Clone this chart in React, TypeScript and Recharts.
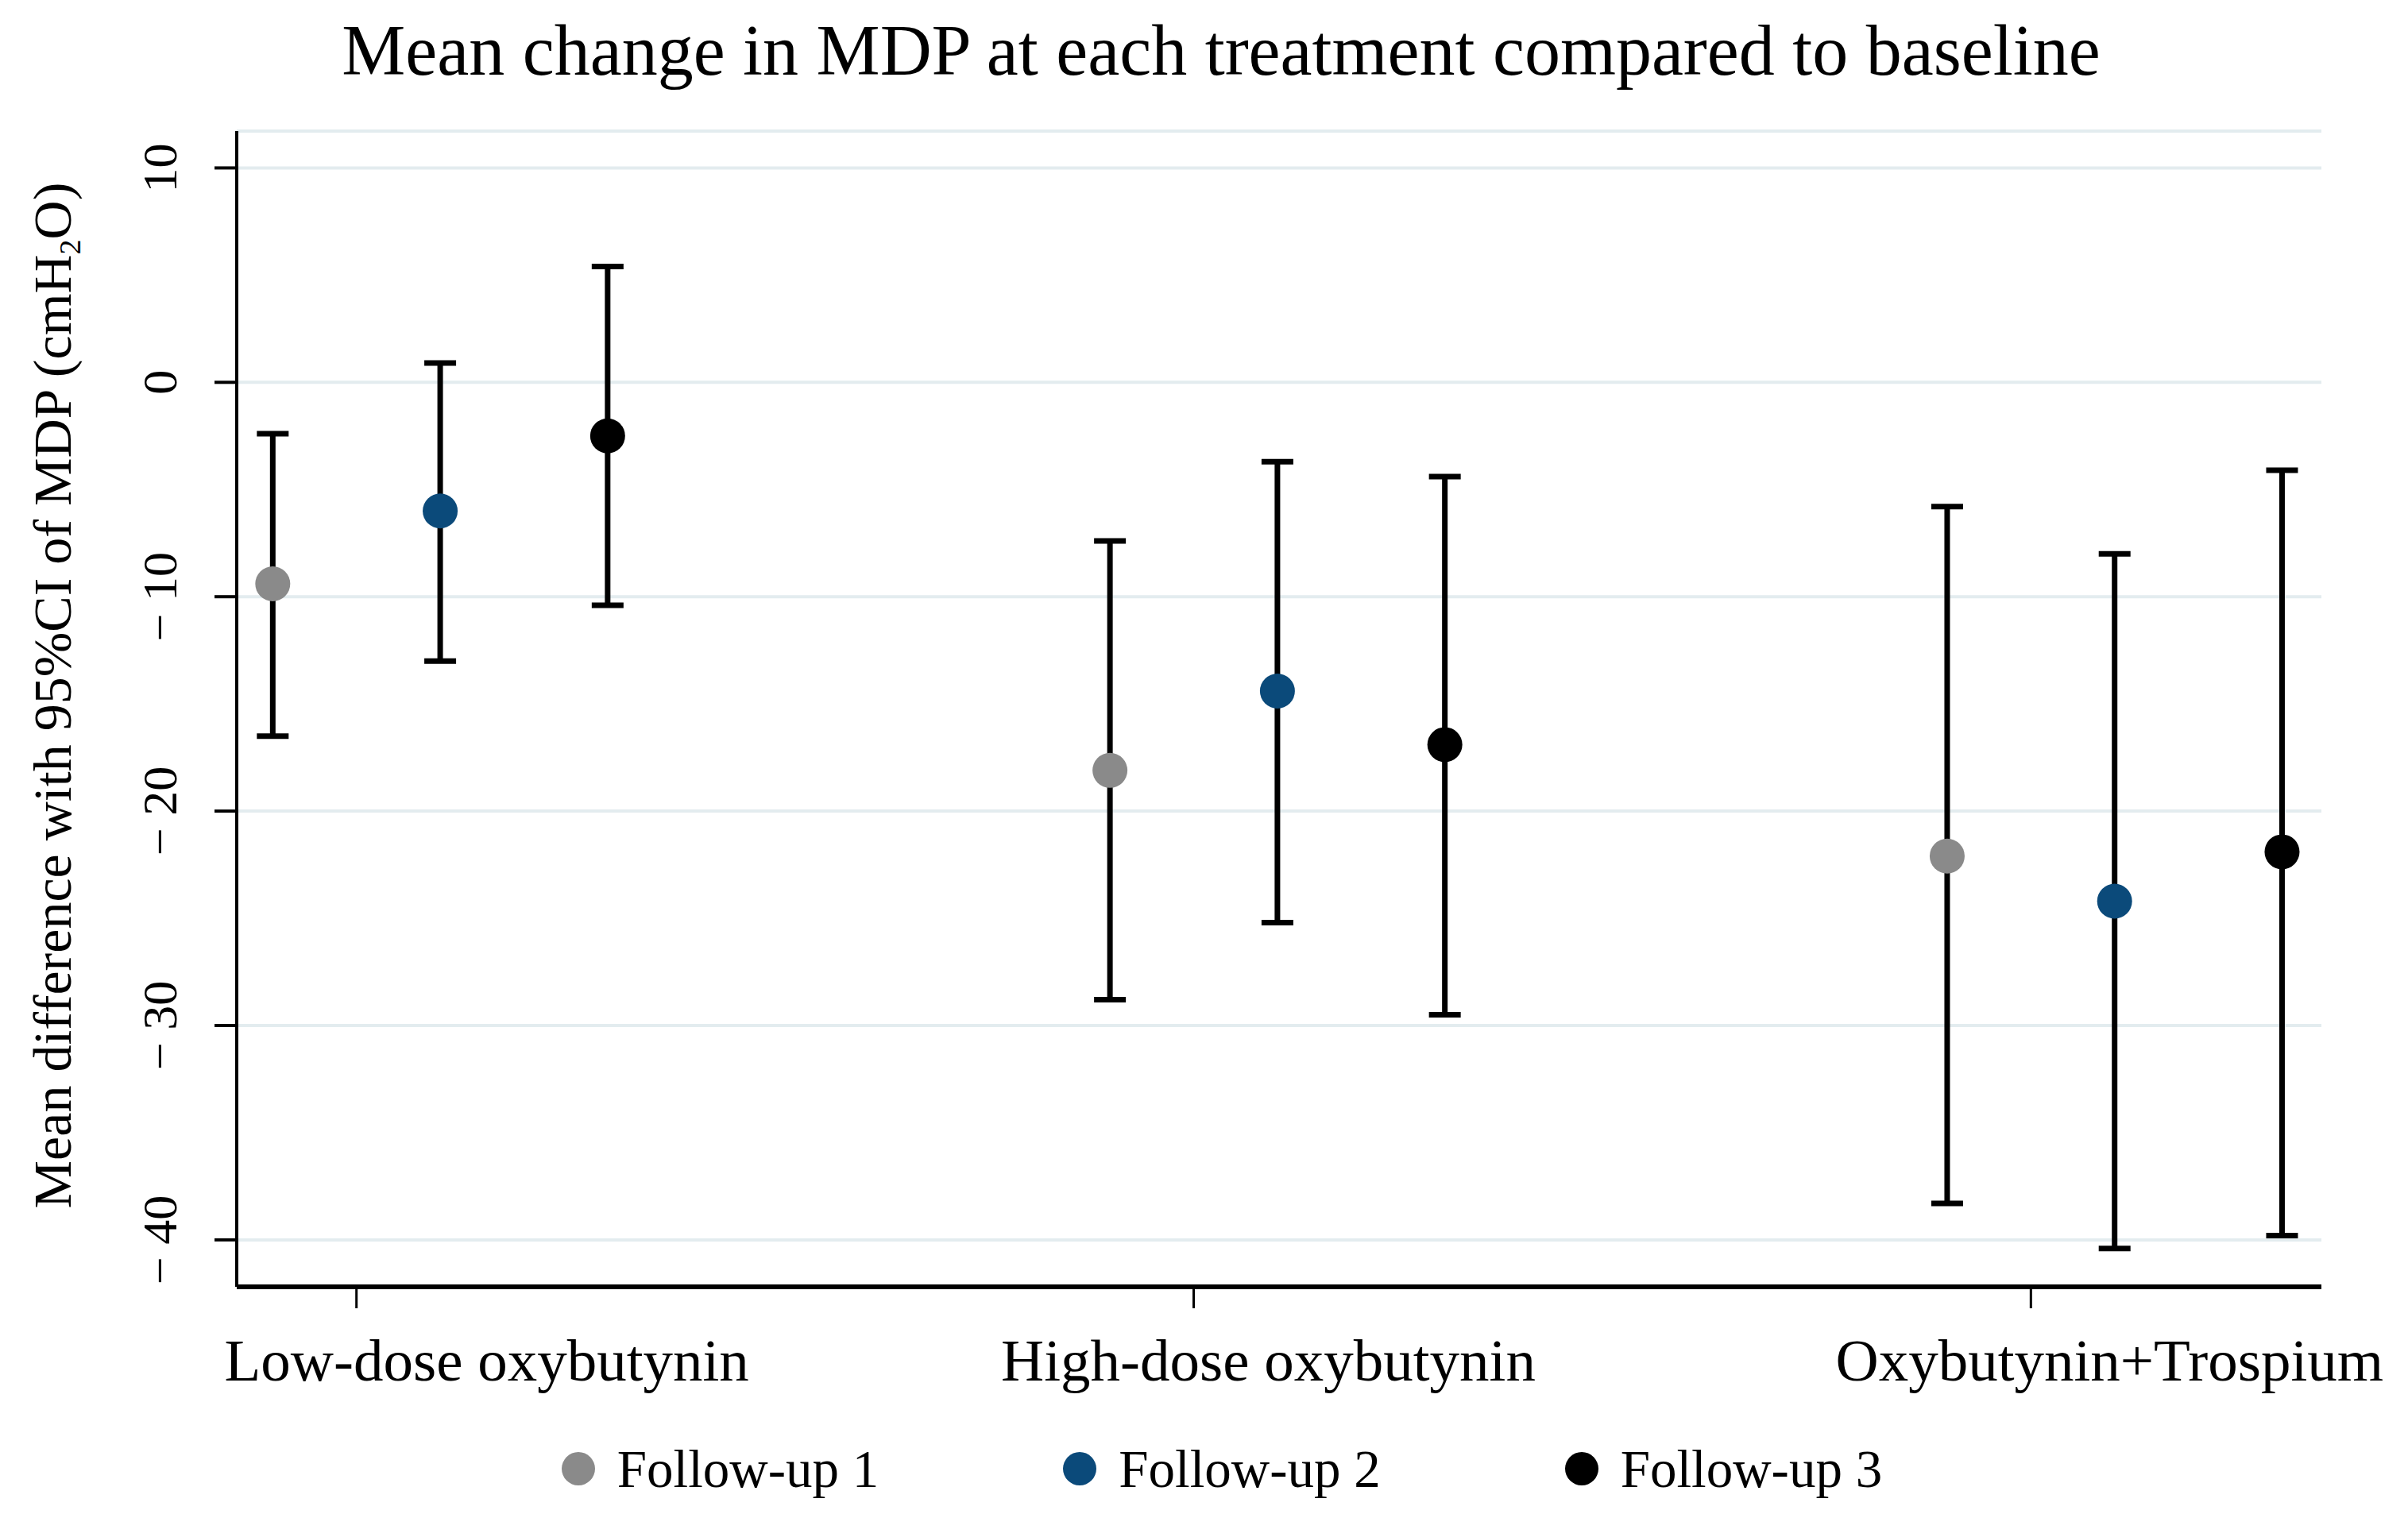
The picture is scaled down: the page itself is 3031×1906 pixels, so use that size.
import React from "react";
import { ScatterChart, Scatter, XAxis, YAxis, CartesianGrid, ErrorBar, Legend } from "recharts";

const treatments = ["Low-dose oxybutynin", "High-dose oxybutynin", "Oxybutynin+Trospium"];
const followUps = ["Follow-up 1", "Follow-up 2", "Follow-up 3"];
const followUpColors = ["#8a8a8a", "#0b4a7a", "#000000"];
const followUpOffsets = [-0.1, 0.1, 0.3];

// mean difference and 95% CI bounds, per treatment
const fu1Mean = [-9.4, -18.1, -22.1];
const fu1Lower = [-16.5, -28.8, -38.3];
const fu1Upper = [-2.4, -7.4, -5.8];
const fu2Mean = [-6.0, -14.4, -24.2];
const fu2Lower = [-13.0, -25.2, -40.4];
const fu2Upper = [0.9, -3.7, -8.0];
const fu3Mean = [-2.5, -16.9, -21.9];
const fu3Lower = [-10.4, -29.5, -39.8];
const fu3Upper = [5.4, -4.4, -4.1];

const yTicks = [10, 0, -10, -20, -30, -40];
const xTicks = [1, 2, 3];

// horizontal nudge of each category label (px)
const xLabelShift = [164, 94, 99];

const FONT = '"Liberation Serif", "Times New Roman", serif';

const seriesValues = [
  { mean: fu1Mean, lower: fu1Lower, upper: fu1Upper },
  { mean: fu2Mean, lower: fu2Lower, upper: fu2Upper },
  { mean: fu3Mean, lower: fu3Lower, upper: fu3Upper },
];

const seriesData = seriesValues.map((s, si) =>
  treatments.map((t, ti) => ({
    treatment: t,
    x: ti + 1 + followUpOffsets[si],
    y: s.mean[ti],
    err: [s.mean[ti] - s.lower[ti], s.upper[ti] - s.mean[ti]],
  }))
);

const XTick = (props: any) => {
  const { x, y, payload } = props;
  const i = Math.round(payload.value) - 1;
  return (
    <text
      x={x + xLabelShift[i]}
      y={y + 91}
      textAnchor="middle"
      fontFamily={FONT}
      fontSize={75}
      fill="#000"
    >
      {treatments[i]}
    </text>
  );
};

const YTick = (props: any) => {
  const { x, y, payload } = props;
  const v = payload.value;
  const label = v < 0 ? "\u2212 " + Math.abs(v) : String(v);
  const bx = x - 48;
  return (
    <text
      x={bx}
      y={y}
      transform={`rotate(-90, ${bx}, ${y})`}
      textAnchor="middle"
      fontFamily={FONT}
      fontSize={62}
      fill="#000"
    >
      {label}
    </text>
  );
};

const renderYLabel = (props: any) => {
  const vb = props.viewBox;
  const lx = vb.x + 89;
  const ly = vb.y + vb.height / 2 - 17;
  return (
    <text
      x={lx}
      y={ly}
      transform={`rotate(-90, ${lx}, ${ly})`}
      textAnchor="middle"
      fontFamily={FONT}
      fontSize={68}
      fill="#000"
    >
      Mean difference with 95%CI of MDP (cmH
      <tspan dy={12} fontSize={38}>2</tspan>
      <tspan dy={-12}>O)</tspan>
    </text>
  );
};

const LegendContent = () => (
  <div
    style={{
      height: 128,
      boxSizing: "border-box",
      paddingTop: 14,
      paddingLeft: 154,
      display: "flex",
      justifyContent: "center",
      alignItems: "center",
      gap: 232,
    }}
  >
    {followUps.map((f, i) => (
      <div key={f} style={{ display: "flex", alignItems: "center" }}>
        <span
          style={{
            display: "inline-block",
            width: 42,
            height: 42,
            borderRadius: "50%",
            background: followUpColors[i],
            marginRight: 28,
          }}
        />
        <span style={{ fontFamily: FONT, fontSize: 67, lineHeight: 1, color: "#000" }}>{f}</span>
      </div>
    ))}
  </div>
);

export default function App() {
  return (
    <div style={{ position: "relative", width: 3031, height: 1906, background: "#fff" }}>
      <style>{"body{margin:0;}"}</style>
      <ScatterChart width={3031} height={1906} margin={{ top: 165, right: 109, bottom: 0, left: 0 }}>
        <CartesianGrid vertical={false} stroke="#e3ecef" strokeWidth={4} />
        <XAxis
          type="number"
          dataKey="x"
          domain={[0.857, 3.347]}
          ticks={xTicks}
          allowDataOverflow
          interval={0}
          height={158}
          tickSize={27}
          tickMargin={0}
          tick={XTick}
          tickLine={{ stroke: "#000", strokeWidth: 3 }}
          axisLine={{ stroke: "#000", strokeWidth: 6 }}
        />
        <YAxis
          type="number"
          dataKey="y"
          domain={[-42.19, 11.72]}
          ticks={yTicks}
          allowDataOverflow
          interval={0}
          width={298}
          tickSize={28}
          tickMargin={0}
          tick={YTick}
          tickLine={{ stroke: "#000", strokeWidth: 4 }}
          axisLine={{ stroke: "#000", strokeWidth: 4 }}
          label={renderYLabel}
        />
        <Legend verticalAlign="bottom" height={128} content={LegendContent} />
        {seriesData.map((d, i) => (
          <Scatter
            key={followUps[i]}
            name={followUps[i]}
            data={d}
            fill={followUpColors[i]}
            isAnimationActive={false}
            shape={(p: any) => <circle cx={p.cx} cy={p.cy} r={22} fill={followUpColors[i]} />}
          >
            <ErrorBar
              dataKey="err"
              direction="y"
              width={20}
              stroke="#000"
              strokeWidth={7}
              isAnimationActive={false}
            />
          </Scatter>
        ))}
      </ScatterChart>
      <svg
        width={3031}
        height={1906}
        style={{ position: "absolute", left: 0, top: 0, pointerEvents: "none" }}
      >
        <text x={1537} y={94} textAnchor="middle" fontFamily={FONT} fontSize={90} fill="#000">
          Mean change in MDP at each treatment compared to baseline
        </text>
      </svg>
    </div>
  );
}
